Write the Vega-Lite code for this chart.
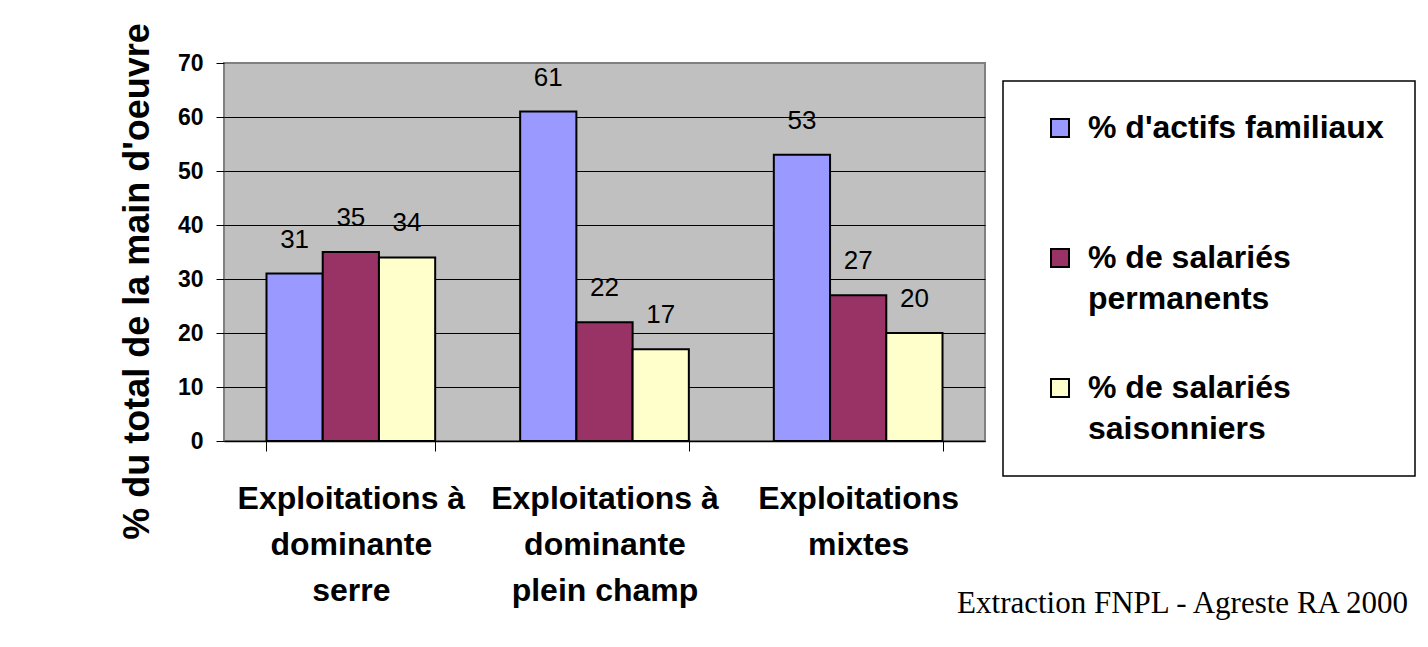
{
  "$schema": "https://vega.github.io/schema/vega-lite/v6.json",
  "description": "Main d'oeuvre par type d'exploitation (FNPL - Agreste RA 2000)",
  "width": 761,
  "height": 378,
  "autosize": {"type": "none"},
  "padding": {"left": 224, "top": 63, "right": 443, "bottom": 206},
  "background": "white",
  "config": {
    "font": "Liberation Sans",
    "view": {"fill": "#c0c0c0", "stroke": "#808080", "strokeWidth": 2},
    "legend": {"strokeWidth": 1.5}
  },
  "title": {
    "text": "Extraction FNPL - Agreste RA 2000",
    "orient": "bottom",
    "anchor": "end",
    "frame": "group",
    "font": "Liberation Serif",
    "fontSize": 31,
    "fontWeight": "normal",
    "color": "black",
    "baseline": "alphabetic",
    "offset": 7,
    "dx": 423
  },
  "data": {
    "values": [
      {"type": "Exploitations à dominante serre", "serie": "% d'actifs familiaux", "value": 31},
      {"type": "Exploitations à dominante serre", "serie": "% de salariés permanents", "value": 35},
      {"type": "Exploitations à dominante serre", "serie": "% de salariés saisonniers", "value": 34},
      {"type": "Exploitations à dominante plein champ", "serie": "% d'actifs familiaux", "value": 61},
      {"type": "Exploitations à dominante plein champ", "serie": "% de salariés permanents", "value": 22},
      {"type": "Exploitations à dominante plein champ", "serie": "% de salariés saisonniers", "value": 17},
      {"type": "Exploitations mixtes", "serie": "% d'actifs familiaux", "value": 53},
      {"type": "Exploitations mixtes", "serie": "% de salariés permanents", "value": 27},
      {"type": "Exploitations mixtes", "serie": "% de salariés saisonniers", "value": 20}
    ]
  },
  "encoding": {
    "x": {
      "field": "type",
      "type": "nominal",
      "sort": null,
      "scale": {"paddingInner": 0.335, "paddingOuter": 0.1675},
      "axis": {
        "title": null,
        "labelAngle": 0,
        "labelFont": "Liberation Sans",
        "labelFontSize": 32,
        "labelFontWeight": "bold",
        "labelColor": "black",
        "labelPadding": 32,
        "labelLineHeight": 46,
        "labelLimit": 400,
        "labelOverlap": false,
        "labelExpr": "split(replace(datum.label, / (?=dominante|serre|plein|mixtes)/g, '|'), '|')",
        "tickBand": "extent",
        "tickSize": 10,
        "tickColor": "black",
        "domainColor": "black",
        "domainWidth": 1.5,
        "grid": false
      }
    },
    "xOffset": {
      "field": "serie",
      "type": "nominal",
      "scale": {
        "domain": ["% d'actifs familiaux", "% de salariés permanents", "% de salariés saisonniers"],
        "paddingInner": 0,
        "paddingOuter": 0
      }
    },
    "y": {
      "field": "value",
      "type": "quantitative",
      "scale": {"domain": [0, 70], "nice": false},
      "axis": {
        "title": "% du total de la main d'oeuvre",
        "values": [0, 10, 20, 30, 40, 50, 60, 70],
        "grid": true,
        "gridColor": {"condition": {"test": "datum.value == 70", "value": "#808080"}, "value": "black"},
        "gridWidth": 1,
        "gridOpacity": 1,
        "domain": false,
        "tickColor": "black",
        "tickSize": 8,
        "labelFont": "Liberation Sans",
        "labelFontSize": 23,
        "labelFontWeight": "bold",
        "labelColor": "black",
        "labelPadding": 13,
        "titleFont": "Liberation Sans",
        "titleFontSize": 36,
        "titleFontWeight": "bold",
        "titleColor": "black",
        "titleAngle": 270,
        "titleAlign": "center",
        "titleBaseline": "alphabetic",
        "titleX": -76,
        "titleY": 218
      }
    }
  },
  "layer": [
    {
      "mark": {"type": "bar", "stroke": "black", "strokeWidth": 2},
      "encoding": {
        "color": {
          "field": "serie",
          "type": "nominal",
          "scale": {
            "domain": ["% d'actifs familiaux", "% de salariés permanents", "% de salariés saisonniers"],
            "range": ["#9999ff", "#993366", "#ffffcc"]
          },
          "legend": {
            "orient": "none",
            "legendX": 779,
            "legendY": 18,
            "title": " ",
            "titleOrient": "left",
            "titleFontSize": 8,
            "titlePadding": 10,
            "padding": 31,
            "strokeColor": "black",
            "fillColor": "white",
            "symbolType": "square",
            "symbolSize": 324,
            "symbolStrokeColor": "black",
            "symbolStrokeWidth": 2,
            "symbolOpacity": 1,
            "labelFont": "Liberation Sans",
            "labelFontSize": 32,
            "labelFontWeight": "bold",
            "labelColor": "black",
            "labelOffset": 12,
            "labelLimit": 600,
            "labelExpr": "split(replace(datum.label, / (?=permanents|saisonniers)/g, '|'), '|')",
            "gridAlign": "all",
            "rowPadding": 57,
            "encode": {"labels": {"update": {"lineHeight": {"value": 41}}}}
          }
        }
      }
    },
    {
      "mark": {
        "type": "text",
        "baseline": "middle",
        "dy": -34,
        "font": "Liberation Sans",
        "fontSize": 26,
        "color": "black"
      },
      "encoding": {
        "text": {"field": "value", "type": "quantitative"}
      }
    }
  ]
}
